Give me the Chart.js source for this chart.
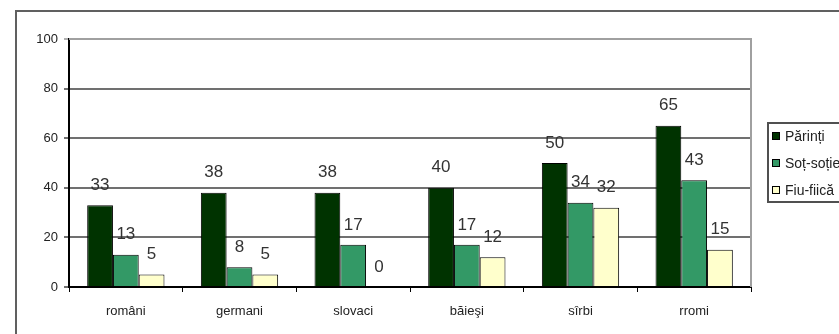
<!DOCTYPE html>
<html lang="ro">
<head>
  <meta charset="UTF-8" />
  <title>Chart</title>
  <script src="https://cdn.jsdelivr.net/npm/chart.js"></script>
  <style>
    html, body { margin: 0; padding: 0; background: #fff; overflow: hidden; }
  </style>
</head>
<body>
  <canvas id="chart" width="839" height="334"></canvas>

  <script>
    const categories = ["români", "germani", "slovaci", "băieşi", "sîrbi", "rromi"];
    const parinti = [33, 38, 38, 40, 50, 65];
    const sotSotie = [13, 8, 17, 17, 34, 43];
    const fiuFiica = [5, 5, 0, 12, 32, 15];
    const seriesNames = ["Părinți", "Soț-soție", "Fiu-fiică"];
    const seriesColors = ["#003300", "#339966", "#ffffcc"];
    const yTicks = [0, 20, 40, 60, 80, 100];

    const FONT = "'Liberation Sans', Arial, sans-serif";

    // outer frame, plot border, value labels, legend box
    const decor = {
      id: "decor",
      beforeDraw(chart) {
        const c = chart.ctx;
        c.save();
        c.fillStyle = "#fff";
        c.fillRect(0, 0, chart.width, chart.height);
        c.strokeStyle = "#606060";
        c.lineWidth = 2;
        c.strokeRect(16, 11, 900, 400);
        c.restore();
      },
      afterDatasetsDraw(chart) {
        const c = chart.ctx;
        const a = chart.chartArea;
        c.save();
        c.strokeStyle = "#a0a0a0";
        c.lineWidth = 2;
        c.beginPath();
        c.moveTo(a.left, a.top);
        c.lineTo(a.right, a.top);
        c.lineTo(a.right, a.bottom);
        c.stroke();

        c.font = "17px " + FONT;
        c.fillStyle = "#333";
        c.textAlign = "center";
        c.textBaseline = "middle";
        chart.data.datasets.forEach((ds, i) => {
          chart.getDatasetMeta(i).data.forEach((bar, j) => {
            c.fillText(String(ds.data[j]), bar.x, bar.y - 20);
          });
        });

        // legend
        c.strokeStyle = "#505050";
        c.lineWidth = 2;
        c.strokeRect(768, 123, 120, 79);
        c.font = "14px " + FONT;
        c.textAlign = "left";
        chart.data.datasets.forEach((ds, i) => {
          const y = 136 + i * 27;
          c.fillStyle = ds.backgroundColor;
          c.fillRect(772, y - 4, 8, 8);
          c.strokeStyle = "#000";
          c.lineWidth = 1;
          c.strokeRect(772.5, y - 3.5, 7, 7);
          c.fillStyle = "#222";
          c.fillText(ds.label, 785, y + 1);
        });
        c.restore();
      }
    };

    new Chart(document.getElementById("chart"), {
      type: "bar",
      data: {
        labels: categories,
        datasets: [
          { label: seriesNames[0], data: parinti, backgroundColor: seriesColors[0] },
          { label: seriesNames[1], data: sotSotie, backgroundColor: seriesColors[1] },
          { label: seriesNames[2], data: fiuFiica, backgroundColor: seriesColors[2] }
        ].map(d => Object.assign(d, { borderColor: "#000", borderWidth: 1 }))
      },
      options: {
        responsive: false,
        animation: false,
        categoryPercentage: 0.68,
        barPercentage: 1,
        layout: { padding: { left: 0, top: 39, right: 88, bottom: 0 } },
        plugins: { legend: { display: false }, tooltip: { enabled: false } },
        scales: {
          x: {
            grid: { drawOnChartArea: false, color: "#000", tickLength: 5 },
            border: { color: "#000", width: 2 },
            ticks: { color: "#222", font: { family: FONT, size: 13 }, padding: 12 },
            afterFit(s) { s.height = 47; }
          },
          y: {
            min: 0,
            max: 100,
            afterBuildTicks(s) { s.ticks = yTicks.map(v => ({ value: v })); },
            grid: {
              color: ctx => ctx.tick && ctx.tick.value === 100 ? "#b0b0b0" : "#707070",
              lineWidth: 2,
              tickLength: 5
            },
            border: { color: "#000", width: 2 },
            ticks: { color: "#222", font: { family: FONT, size: 13 }, padding: 6 },
            afterFit(s) { s.width = 69; }
          }
        }
      },
      plugins: [decor]
    });
  </script>
</body>
</html>
